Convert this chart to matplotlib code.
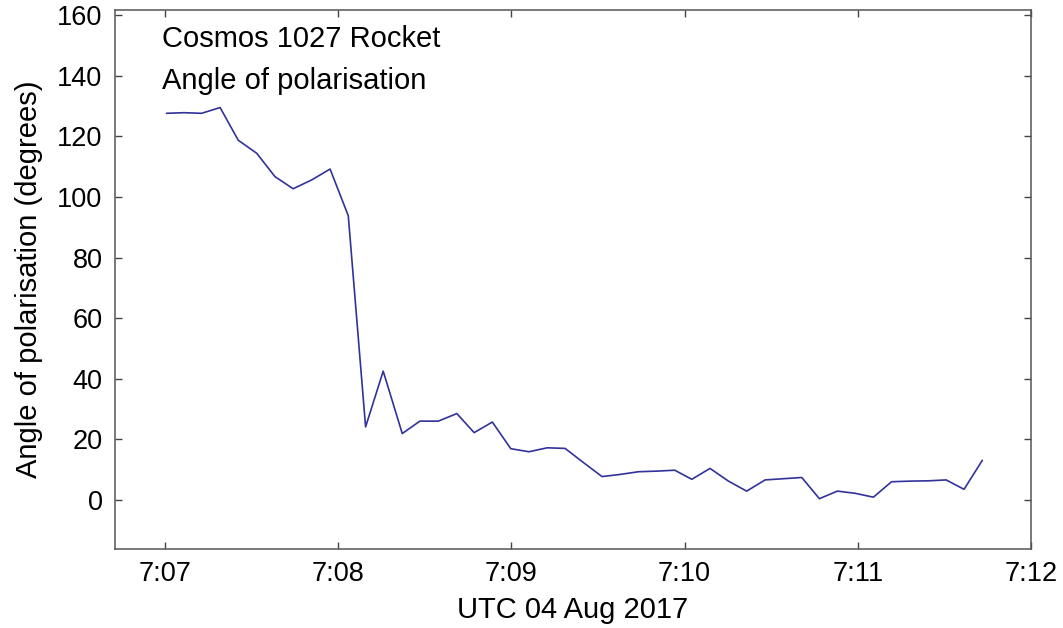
import matplotlib
matplotlib.use("Agg")
import matplotlib.pyplot as plt

# seconds after 07:07:00 UTC, 04 Aug 2017
segundos = [0.6, 6.6, 12.7, 19.1, 25.4, 31.8, 38.1, 44.4, 50.8, 57.2,
            63.5, 69.5, 75.6, 82.2, 88.3, 94.7, 101.1, 107.1, 113.4, 119.8,
            126.1, 132.4, 138.6, 145.0, 151.4, 157.6, 164.0, 170.3, 176.6, 182.5,
            188.8, 195.2, 201.5, 207.9, 214.2, 220.6, 226.7, 232.9, 239.0, 245.4,
            251.7, 258.1, 264.4, 270.6, 276.8, 283.1]
angulo = [127.6, 127.8, 127.6, 129.5, 118.7, 114.4, 106.7, 102.7, 105.6, 109.2,
          93.8, 24.1, 42.5, 21.9, 26.0, 26.0, 28.5, 22.2, 25.7, 16.9,
          15.9, 17.2, 17.0, 12.3, 7.7, 8.4, 9.3, 9.5, 9.8, 6.8,
          10.4, 6.2, 2.9, 6.6, 7.0, 7.4, 0.4, 2.9, 2.2, 0.9,
          6.0, 6.2, 6.3, 6.6, 3.5, 13.0]

xticks = [0, 60, 120, 180, 240, 300]
xticklabels = ["7:07", "7:08", "7:09", "7:10", "7:11", "7:12"]
yticks = [0, 20, 40, 60, 80, 100, 120, 140, 160]

plt.rcParams['font.family'] = ['Liberation Sans', 'DejaVu Sans']
fs_ticks = 19.5
fs_text = 21

fig = plt.figure(figsize=(10.63, 6.28), dpi=100)
ax = fig.add_axes([0.1082, 0.1258, 0.8617, 0.8583])

ax.plot(segundos, angulo, color='#32329a', linewidth=1.2)

ax.set_xlim(-17.3, 300)
ax.set_ylim(-16.2, 161.7)
ax.set_xticks(xticks)
ax.set_xticklabels(xticklabels)
ax.set_yticks(yticks)

ax.tick_params(direction='in', length=5, width=1, colors='#444444',
               labelcolor='black', labelsize=fs_ticks, top=True, right=True, pad=9)
for s in ax.spines.values():
    s.set_color('#555555')
    s.set_linewidth(1.1)

ax.set_xlabel("UTC 04 Aug 2017", fontsize=fs_text, labelpad=6)
ax.set_ylabel("Angle of polarisation (degrees)", fontsize=fs_text, labelpad=10)

ax.text(0.051, 0.947, "Cosmos 1027 Rocket", transform=ax.transAxes,
        fontsize=fs_text, va='center', ha='left')
ax.text(0.051, 0.868, "Angle of polarisation", transform=ax.transAxes,
        fontsize=fs_text, va='center', ha='left')

fig.savefig("out.png", dpi=100)
